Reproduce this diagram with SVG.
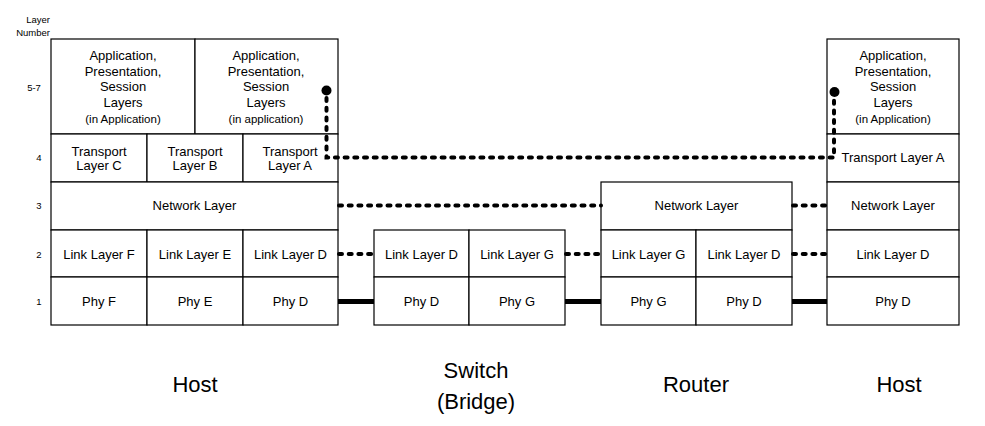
<svg xmlns="http://www.w3.org/2000/svg" width="985" height="426" viewBox="0 0 985 426">
<style>
  .cell { fill: #fff; stroke: #000; stroke-width: 1.2; }
  text { font-family: "Liberation Sans", Arial, sans-serif; fill: #000; text-anchor: middle; }
  .t { font-size: 13px; }
  .s { font-size: 11.5px; }
  .num { font-size: 9.5px; }
  .big { font-size: 22px; }
  .dots { fill: none; stroke: #000; stroke-width: 4; stroke-linecap: round; stroke-dasharray: 3 6.7; }
  .wire { stroke: #000; stroke-width: 5; }
</style>
<rect width="985" height="426" fill="#fff"/>

<g id="layer-numbers">
  <text class="num" x="50" y="23" style="text-anchor:end">Layer</text>
  <text class="num" x="50" y="36" style="text-anchor:end">Number</text>
  <text class="num" x="34" y="91">5-7</text>
  <text class="num" x="39" y="161">4</text>
  <text class="num" x="39" y="209">3</text>
  <text class="num" x="39" y="257.5">2</text>
  <text class="num" x="39" y="305">1</text>
</g>

<g id="host-left">
  <rect class="cell" x="51" y="39" width="144" height="95"/>
  <rect class="cell" x="195" y="39" width="143" height="95"/>
  <rect class="cell" x="51" y="134" width="96" height="48"/>
  <rect class="cell" x="147" y="134" width="96" height="48"/>
  <rect class="cell" x="243" y="134" width="95" height="48"/>
  <rect class="cell" x="51" y="182" width="287" height="48"/>
  <rect class="cell" x="51" y="230" width="96" height="47"/>
  <rect class="cell" x="147" y="230" width="96" height="47"/>
  <rect class="cell" x="243" y="230" width="95" height="47"/>
  <rect class="cell" x="51" y="277" width="96" height="48"/>
  <rect class="cell" x="147" y="277" width="96" height="48"/>
  <rect class="cell" x="243" y="277" width="95" height="48"/>
  <text class="t" x="123" y="59.5">Application,</text>
  <text class="t" x="123" y="75.5">Presentation,</text>
  <text class="t" x="123" y="91">Session</text>
  <text class="t" x="123" y="107">Layers</text>
  <text class="s" x="123" y="123">(in Application)</text>
  <text class="t" x="266" y="59.5">Application,</text>
  <text class="t" x="266" y="75.5">Presentation,</text>
  <text class="t" x="266" y="91">Session</text>
  <text class="t" x="266" y="107">Layers</text>
  <text class="s" x="266" y="123">(in application)</text>
  <text class="t" x="99" y="155.5">Transport</text>
  <text class="t" x="99" y="170">Layer C</text>
  <text class="t" x="195" y="155.5">Transport</text>
  <text class="t" x="195" y="170">Layer B</text>
  <text class="t" x="290" y="155.5">Transport</text>
  <text class="t" x="290" y="170">Layer A</text>
  <text class="t" x="194.5" y="210">Network Layer</text>
  <text class="t" x="99" y="258.5">Link Layer F</text>
  <text class="t" x="195" y="258.5">Link Layer E</text>
  <text class="t" x="290.5" y="258.5">Link Layer D</text>
  <text class="t" x="99" y="306">Phy F</text>
  <text class="t" x="195" y="306">Phy E</text>
  <text class="t" x="290.5" y="306">Phy D</text>
  <text class="big" x="195" y="392">Host</text>
</g>

<g id="switch">
  <rect class="cell" x="374" y="230" width="95" height="47"/>
  <rect class="cell" x="469" y="230" width="96" height="47"/>
  <rect class="cell" x="374" y="277" width="95" height="48"/>
  <rect class="cell" x="469" y="277" width="96" height="48"/>
  <text class="t" x="421.5" y="258.5">Link Layer D</text>
  <text class="t" x="517" y="258.5">Link Layer G</text>
  <text class="t" x="421.5" y="306">Phy D</text>
  <text class="t" x="517" y="306">Phy G</text>
  <text class="big" x="476" y="378">Switch</text>
  <text class="big" x="476" y="409">(Bridge)</text>
</g>

<g id="router">
  <rect class="cell" x="601" y="182" width="191" height="48"/>
  <rect class="cell" x="601" y="230" width="95" height="47"/>
  <rect class="cell" x="696" y="230" width="96" height="47"/>
  <rect class="cell" x="601" y="277" width="95" height="48"/>
  <rect class="cell" x="696" y="277" width="96" height="48"/>
  <text class="t" x="696.5" y="210">Network Layer</text>
  <text class="t" x="648.5" y="258.5">Link Layer G</text>
  <text class="t" x="744" y="258.5">Link Layer D</text>
  <text class="t" x="648.5" y="306">Phy G</text>
  <text class="t" x="744" y="306">Phy D</text>
  <text class="big" x="696" y="392">Router</text>
</g>

<g id="host-right">
  <rect class="cell" x="827" y="39" width="132" height="95"/>
  <rect class="cell" x="827" y="134" width="132" height="48"/>
  <rect class="cell" x="827" y="182" width="132" height="48"/>
  <rect class="cell" x="827" y="230" width="132" height="47"/>
  <rect class="cell" x="827" y="277" width="132" height="48"/>
  <text class="t" x="893" y="59.5">Application,</text>
  <text class="t" x="893" y="75.5">Presentation,</text>
  <text class="t" x="893" y="91">Session</text>
  <text class="t" x="893" y="107">Layers</text>
  <text class="s" x="893" y="123">(in Application)</text>
  <text class="t" x="893" y="162">Transport Layer A</text>
  <text class="t" x="893" y="210">Network Layer</text>
  <text class="t" x="893" y="258.5">Link Layer D</text>
  <text class="t" x="893" y="306">Phy D</text>
  <text class="big" x="899" y="392">Host</text>
</g>

<g id="connectors">
  <path class="dots" d="M326.5,98 V157.5 H834 V100"/>
  <circle cx="326.5" cy="90.5" r="5"/>
  <circle cx="834.5" cy="92" r="5"/>
  <line class="dots" x1="339" y1="205.5" x2="601" y2="205.5"/>
  <line class="dots" x1="793" y1="205.5" x2="827" y2="205.5"/>
  <line class="dots" x1="339" y1="254" x2="374" y2="254"/>
  <line class="dots" x1="566" y1="254" x2="601" y2="254"/>
  <line class="dots" x1="793" y1="254" x2="827" y2="254"/>
  <line class="wire" x1="338" y1="301.5" x2="374" y2="301.5"/>
  <line class="wire" x1="565" y1="301.5" x2="601" y2="301.5"/>
  <line class="wire" x1="792" y1="301.5" x2="827" y2="301.5"/>
</g>
</svg>
